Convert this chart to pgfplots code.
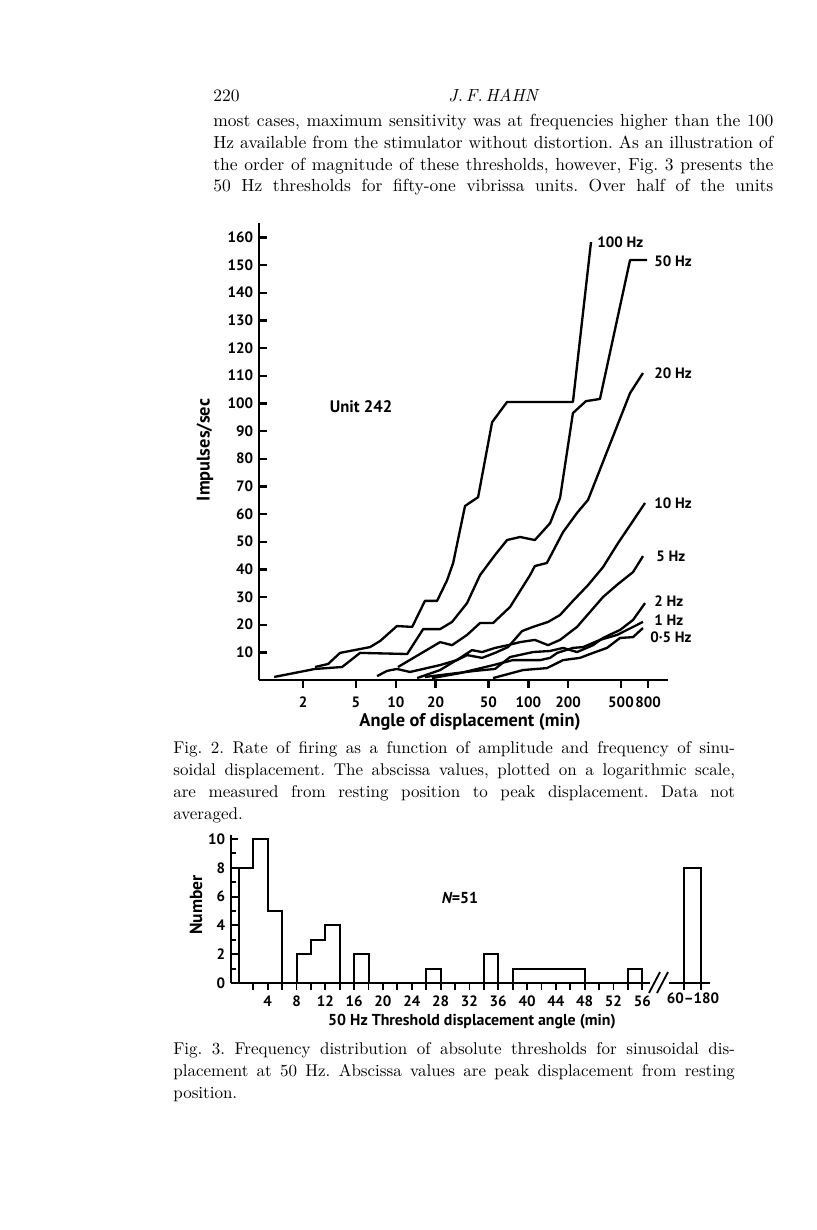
\documentclass[border=0pt]{standalone}
\usepackage{fontspec}
\usepackage{pgfplots}
\pgfplotsset{compat=1.18}
\newfontfamily\gill{PT Sans}
\newcommand\lab{\gill\bfseries\fontsize{9}{10}\selectfont}
\newcommand\body{\fontsize{10.5}{12}\selectfont}
\newcommand\capt{\fontsize{10.2}{12}\selectfont}
\frenchspacing

\begin{document}
\begin{tikzpicture}[x=0.6pt,y=-0.6pt]
\path[use as bounding box, fill=white] (0,0) rectangle (816,1230);
\coordinate (f2) at (259,680);
\coordinate (f3) at (231,983);

% page header and text
\node[anchor=base west,inner sep=0] at (213,101) {\body 220};
\node[anchor=base,inner sep=0] at (493,101) {\body\itshape J.\,F.\,HAHN};
\node[anchor=base west,inner sep=0] at (213,126) {\body\makebox[336pt][s]{most cases, maximum sensitivity was at frequencies higher than the 100}};
\node[anchor=base west,inner sep=0] at (213,148) {\body\makebox[336pt][s]{Hz available from the stimulator without distortion. As an illustration of}};
\node[anchor=base west,inner sep=0] at (213,170) {\body\makebox[336pt][s]{the order of magnitude of these thresholds, however, Fig. 3 presents the}};
\node[anchor=base west,inner sep=0] at (213,191) {\body\makebox[336pt][s]{50 Hz thresholds for fifty-one vibrissa units. Over half of the units}};

% Fig. 2
\begin{axis}[
    at={(f2)}, anchor=south west,
    scale only axis, width=245.4pt, height=274.2pt,
    xmode=log, xmin=0.93, xmax=1131, ymin=0, ymax=165.2,
    axis x line=bottom, axis y line=left,
    axis line style={-, line width=1.6pt},
    xtick={2,5,10,20,50,100,200,500,800},
    xticklabels={2,5,10,20,50,100,200,500,800},
    ytick={10,20,...,160},
    yticklabels={10,20,30,40,50,60,70,80,90,100,110,120,130,140,150,160},
    minor tick num=0,
    xtick align=outside, ytick align=inside,
    major tick length=5pt,
    tick style={line width=1.4pt, black},
    tick label style={font=\lab},
    xticklabel style={yshift=-1.5pt},
    clip=false,
]
% 100 Hz
\addplot[black, line width=1.4pt, line join=round] coordinates {
 (2.46,4.7) (3.09,5.8) (3.80,9.8) (6.40,11.9) (7.62,14.1) (10.2,19.5) (13.3,19.2)
 (16.6,28.6) (20.5,28.6) (24.4,36.1) (27.1,42.3) (33.3,62.9) (41.8,66.1)
 (53.3,93.2) (69.1,100.5) (217,100.5) (297,158.3)
};
% 50 Hz
\addplot[black, line width=1.4pt, line join=round] coordinates {
 (1.21,1.1) (2.46,4.0) (3.94,4.7) (5.38,9.8) (12.2,9.4) (16.1,18.4) (21.6,18.4)
 (26.6,21.0) (34.5,27.8) (43.2,37.9) (56.1,45.2) (69.1,50.6) (86.6,51.7)
 (112,50.6) (146,56.7) (173.5,65.8) (217,96.5) (272,100.8) (347,101.6)
 (585,151.8) (786,151.8)
};
% 20 Hz
\addplot[black, line width=1.4pt, line join=round] coordinates {
 (10.4,4.7) (21.6,13.7) (26.6,12.6) (34.5,16.3) (43.2,20.6) (54.2,20.6)
 (72.8,26.4) (103,37.9) (112,41.2) (138,42.3) (183,53.5) (233,60.4)
 (282,65.1) (585,103.7) (733,111.0)
};
% 10 Hz
\addplot[black, line width=1.4pt, line join=round] coordinates {
 (7.23,1.4) (8.60,3.3) (10.2,4.0) (12.8,2.9) (21.6,5.4) (29.0,7.2) (34.5,9.0)
 (44.8,8.0) (56.1,9.8) (70.3,11.9) (89.7,17.7) (108.5,19.2) (141,21.0)
 (173.5,23.5) (217,28.6) (282,34.3) (366,40.8) (475,49.5) (616,57.5) (759,64.0)
};
% 5 Hz
\addplot[black, line width=1.4pt, line join=round] coordinates {
 (14.5,0.7) (21.6,3.6) (30.6,8.0) (37.6,10.8) (44.8,10.1) (56.1,11.6) (70.3,12.6)
 (86.6,13.7) (112,14.5) (141,12.6) (173.5,14.5) (233,19.2) (292,24.6)
 (366,30.0) (475,34.7) (616,39.0) (733,44.8)
};
% 2 Hz
\addplot[black, line width=1.4pt, line join=round] coordinates {
 (16.6,1.1) (25.7,2.2) (39.6,3.3) (56.1,4.0) (72.8,8.3) (108.5,10.1) (146,10.5)
 (183,11.6) (233,10.1) (308,12.6) (366,15.2) (492,18.1) (616,21.7) (759,27.8)
};
% 1 Hz
\addplot[black, line width=1.4pt, line join=round] coordinates {
 (18.8,0.7) (30.6,2.5) (51.4,5.1) (76.7,7.2) (123,7.2) (146,8.0) (165,9.8)
 (217,11.6) (259,11.9) (347,14.5) (467,16.3) (555,18.1) (733,21.0)
};
% 0.5 Hz
\addplot[black, line width=1.4pt, line join=round] coordinates {
 (54.2,0.7) (91.2,3.6) (138,4.3) (183,7.2) (245,8.0) (308,9.8) (392,11.6)
 (492,15.2) (616,15.5) (733,18.8)
};
\end{axis}

\node[rotate=90,inner sep=0] at (205,450) {\gill\bfseries\fontsize{11}{12}\selectfont Impulses/sec};
\node[inner sep=0] at (470,722) {\gill\bfseries\fontsize{11}{12}\selectfont Angle of displacement (min)};
\node[inner sep=0] at (361,407) {\gill\bfseries\fontsize{10}{12}\selectfont Unit 242};
\node[anchor=west,inner sep=0] at (597,242) {\lab 100 Hz};
\node[anchor=west,inner sep=0] at (654,261) {\lab 50 Hz};
\node[anchor=west,inner sep=0] at (654,373) {\lab 20 Hz};
\node[anchor=west,inner sep=0] at (654,503) {\lab 10 Hz};
\node[anchor=west,inner sep=0] at (656,556) {\lab 5 Hz};
\node[anchor=west,inner sep=0] at (654,601) {\lab 2 Hz};
\node[anchor=west,inner sep=0] at (654,620) {\lab 1 Hz};
\node[anchor=west,inner sep=0] at (650,637) {\lab 0·5 Hz};

% Fig. 2 caption
\node[anchor=base west,inner sep=0] at (173,753) {\capt\makebox[337pt][s]{Fig. 2. Rate of firing as a function of amplitude and frequency of sinu-}};
\node[anchor=base west,inner sep=0] at (173,775) {\capt\makebox[337pt][s]{soidal displacement. The abscissa values, plotted on a logarithmic scale,}};
\node[anchor=base west,inner sep=0] at (173,797) {\capt\makebox[337pt][s]{are measured from resting position to peak displacement. Data not}};
\node[anchor=base west,inner sep=0] at (173,819) {\capt averaged.};

% Fig. 3
\begin{axis}[
    at={(f3)}, anchor=south west,
    scale only axis, width=287.4pt, height=89pt,
    xmin=-1.1, xmax=65.4, ymin=0, ymax=10.3,
    axis x line=bottom, axis y line=left,
    axis line style={-, line width=1.3pt},
    xtick={2,4,...,56,61.8,64.1},
    xticklabels={,4,,8,,12,,16,,20,,24,,28,,32,,36,,40,,44,,48,,52,,56,,},
    ytick={0,2,...,10},
    yticklabels={0,2,4,6,8,10},
    minor ytick={1,3,...,9},
    xtick align=outside, ytick align=inside,
    major tick length=4pt, minor tick length=3pt,
    tick style={line width=1.1pt, black},
    tick label style={font=\lab},
    clip=false,
]
\addplot[const plot, black, line width=1.2pt, line join=miter] coordinates {
 (0,0) (0,8) (2,10) (4,5) (6,0) (8,2) (10,3) (12,4) (14,0) (16,2) (18,0)
 (26,1) (28,0) (34,2) (36,0) (38,1) (48,0) (54,1) (56,0)
};
\addplot[black, line width=1.2pt, line join=miter] coordinates {
 (61.8,0) (61.8,8) (64.1,8) (64.1,0)
};
\end{axis}
\fill[white] (650,977) rectangle (669,989);
\draw[line width=1.1pt] (649,993) -- (660,972);
\draw[line width=1.1pt] (657,993) -- (668,972);
\node[inner sep=0] at (693,998) {\lab 60–180};
\node[rotate=90,inner sep=0] at (196,905) {\gill\bfseries\fontsize{10.5}{12}\selectfont Number};
\node[inner sep=0] at (472,1022) {\gill\bfseries\fontsize{9.5}{12}\selectfont 50 Hz Threshold displacement angle (min)};
\node[inner sep=0] at (460,898) {\gill\bfseries\fontsize{9.5}{12}\selectfont\itshape N\upshape =51};

% Fig. 3 caption
\node[anchor=base west,inner sep=0] at (173,1054) {\capt\makebox[337pt][s]{Fig. 3. Frequency distribution of absolute thresholds for sinusoidal dis-}};
\node[anchor=base west,inner sep=0] at (173,1076) {\capt\makebox[337pt][s]{placement at 50 Hz. Abscissa values are peak displacement from resting}};
\node[anchor=base west,inner sep=0] at (173,1098) {\capt position.};
\end{tikzpicture}
\end{document}
